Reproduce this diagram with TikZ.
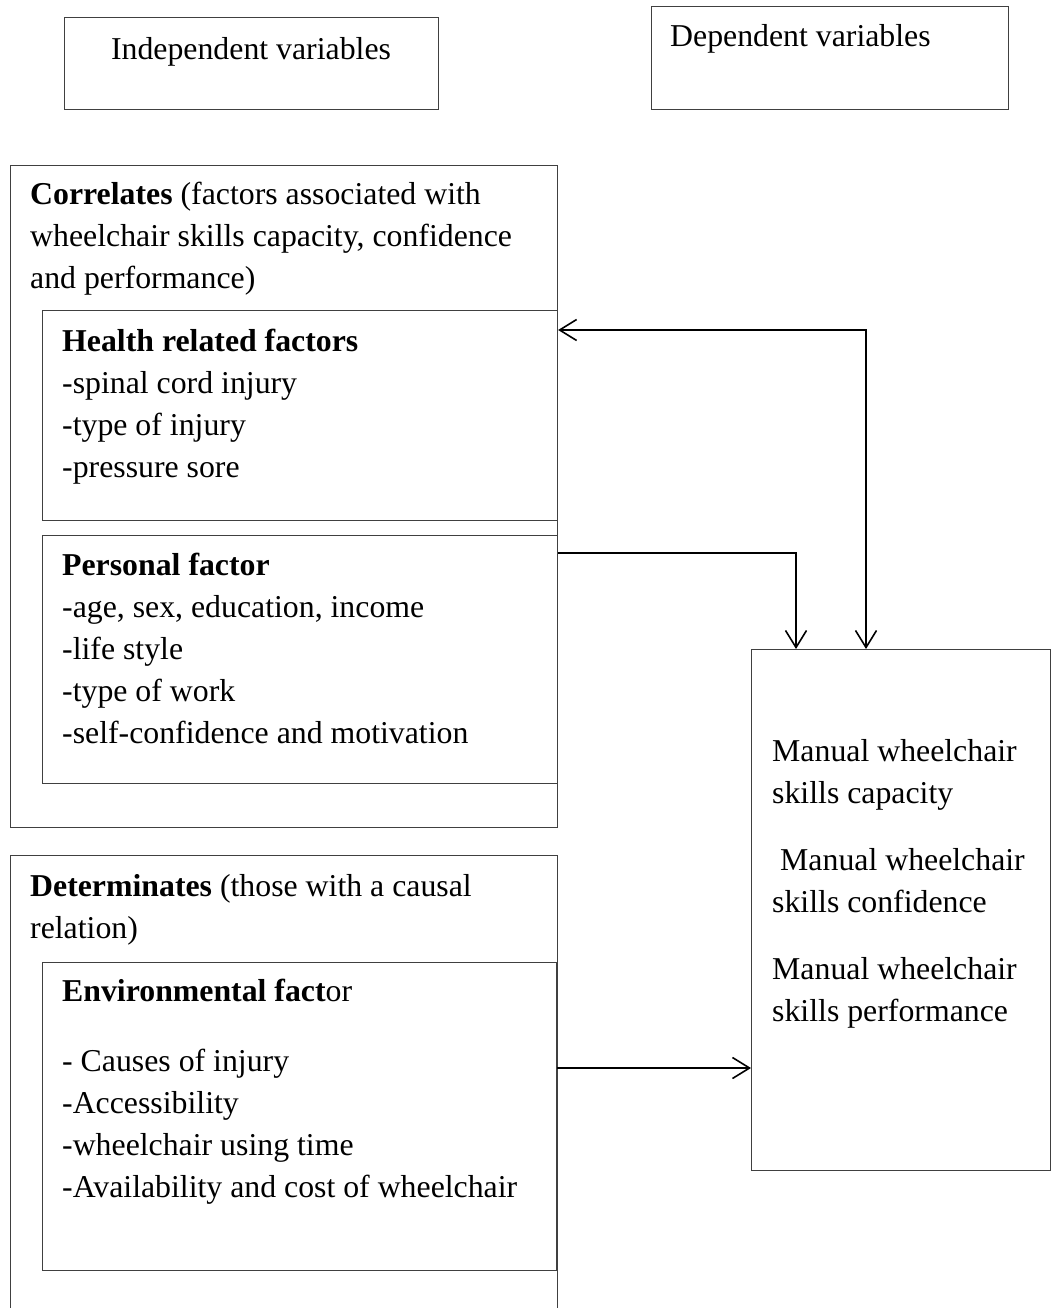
\documentclass[tikz,border=0pt]{standalone}
\usepackage{fontspec}
\setmainfont{Liberation Serif}
\usetikzlibrary{arrows.meta}

\begin{document}
\begin{tikzpicture}[x=1pt,y=-1pt,
  box/.style n args={2}{draw=black!75,line width=1.1pt,rectangle,inner sep=0pt,anchor=north west,minimum width=#1pt,minimum height=#2pt},
  txt/.style={anchor=base west,align=left,inner sep=0pt,font=\fontsize{31.8}{42}\selectfont},
  link/.style={line width=1.6pt,>={Straight Barb[length=17pt,width=21pt]}}]
\clip (0,0) rectangle (1052,1308);
% variable headers (text nodes sit on the baseline of their last line)
\node[box={374}{92}] (indep) at (64,17) {};
\node[box={357}{103}] (depvar) at (651,6) {};
\node[txt,anchor=base] (indeptxt) at (251,60) {Independent variables};
\node[txt] (depvartxt) at (670,47) {Dependent variables};
% correlates
\node[box={547}{662}] (corr) at (10,165) {};
\node[box={515}{210}] (health) at (42,310) {};
\node[box={515}{248}] (pers) at (42,535) {};
\node[txt] (corrtxt) at (30,288) {\textbf{Correlates} (factors associated with\\wheelchair skills capacity, confidence\\and performance)};
\node[txt] (healthtxt) at (62,477) {\textbf{Health related factors}\\-spinal cord injury\\-type of injury\\-pressure sore};
\node[txt] (perstxt) at (62,743) {\textbf{Personal factor}\\-age, sex, education, income\\-life style\\-type of work\\-self-confidence and motivation};
% determinates
\node[box={547}{470}] (determ) at (10,855) {};
\node[box={514}{308}] (env) at (42,962) {};
\node[txt] (determtxt) at (30,938) {\textbf{Determinates} (those with a causal\\relation)};
\node[txt] (envtxt) at (62,1197) {\textbf{Environmental fact}or\\[28pt]- Causes of injury\\-Accessibility\\-wheelchair using time\\-Availability and cost of wheelchair};
% outcome
\node[box={299}{521}] (outcome) at (751,649) {};
\node[txt] (outcometxt) at (772,1021) {Manual wheelchair\\skills capacity\\[25pt]\hspace{8pt}Manual wheelchair\\skills confidence\\[25pt]Manual wheelchair\\skills performance};
% links
\coordinate (envout) at ([yshift=-106pt]env.north east);
\draw[link,->] ([yshift=-18pt]pers.north east) -| ([xshift=45pt]outcome.north west);
\draw[link,<->] ([yshift=-20pt]health.north east) -| ([xshift=115pt]outcome.north west);
\draw[link,->] (envout) -- (envout -| outcome.west);
\end{tikzpicture}
\end{document}
